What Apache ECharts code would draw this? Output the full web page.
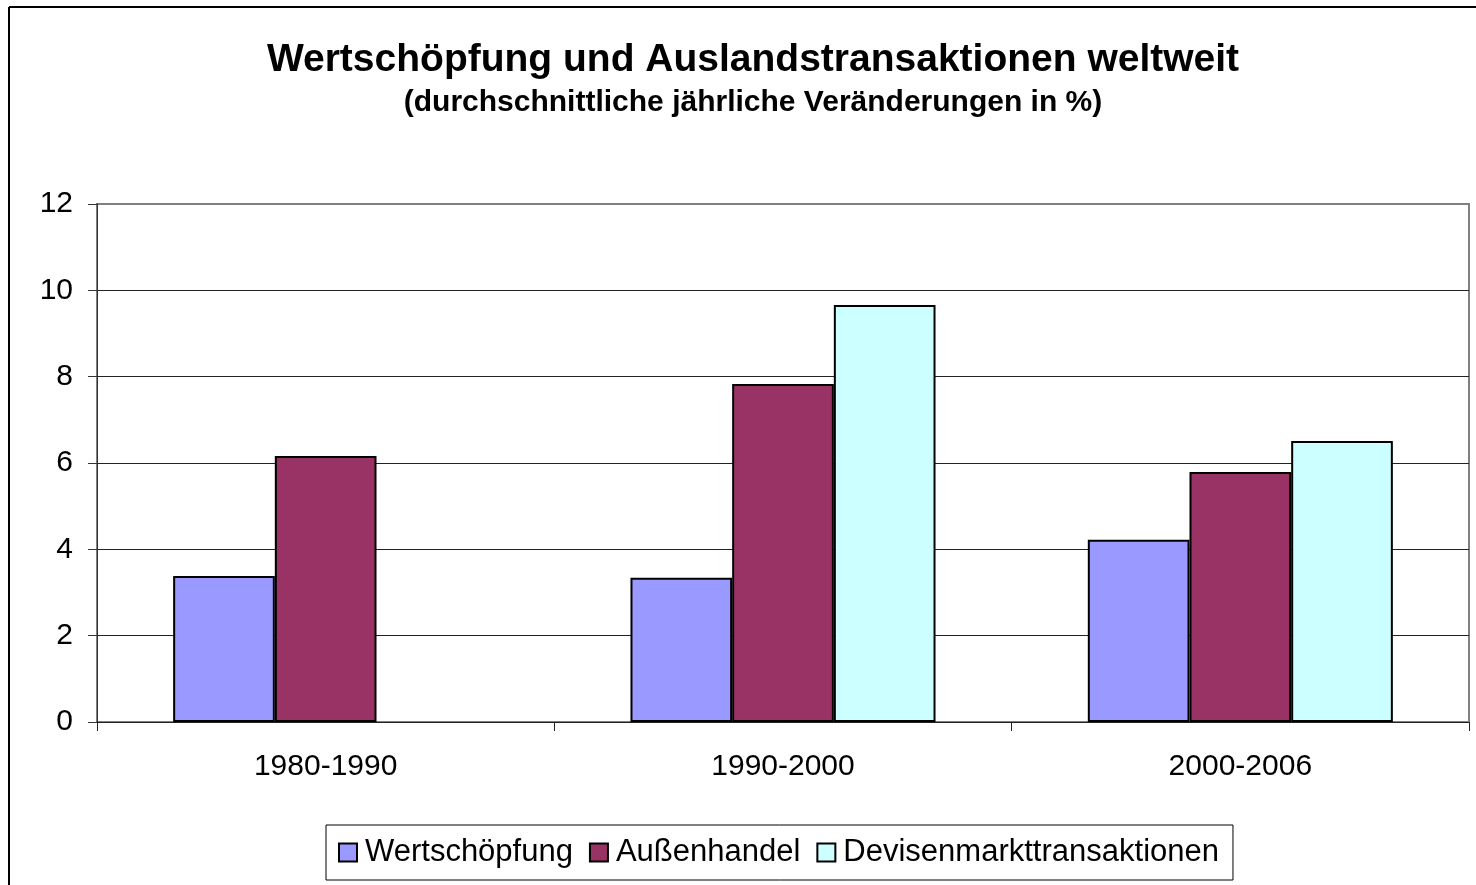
<!DOCTYPE html>
<html><head><meta charset="utf-8">
<script src="https://cdn.jsdelivr.net/npm/echarts@6/dist/echarts.min.js"></script>
<style>html,body{margin:0;padding:0;background:#fff}#c{width:1476px;height:885px}</style>
</head><body><div id="c"></div>
<script>
const categories = ['1980-1990', '1990-2000', '2000-2006'];
const wertschoepfung = [3.38, 3.34, 4.22];
const aussenhandel = [6.16, 7.83, 5.79];
const devisen = [null, 9.66, 6.51];
const seriesNames = ['Wertschöpfung', 'Außenhandel', 'Devisenmarkttransaktionen'];
const titleText = 'Wertschöpfung und Auslandstransaktionen weltweit';
const subtitleText = '(durchschnittliche jährliche Veränderungen in %)';

const chart = echarts.init(document.getElementById('c'), null, {renderer: 'canvas'});
const font = 'Liberation Sans, Arial, sans-serif';
function bar(name, data, color) {
  return {
    name, type: 'bar', data, barGap: '0%', barCategoryGap: '33.3%',
    itemStyle: {color, borderColor: '#000', borderWidth: 2},
    emphasis: {disabled: true}
  };
}
chart.setOption({
  animation: false,
  backgroundColor: '#fff',
  textStyle: {fontFamily: font},
  grid: {left: 97, right: 7, top: 204, bottom: 163, show: true, borderColor: '#808080', borderWidth: 2, backgroundColor: 'transparent'},
  legend: {
    data: seriesNames, bottom: 5, left: 326,
    itemWidth: 18, itemHeight: 18, itemGap: 16,
    padding: [12, 14, 12, 12],
    borderColor: '#000', borderWidth: 1,
    icon: 'rect',
    textStyle: {fontFamily: font, fontSize: 31, color: '#000', padding: [0, 0, 0, 3]}
  },
  xAxis: {
    type: 'category', data: categories,
    axisLine: {lineStyle: {color: '#222', width: 1}},
    axisTick: {show: true, length: 9, lineStyle: {color: '#222'}},
    axisLabel: {fontSize: 30, color: '#000', margin: 30, fontFamily: font}
  },
  yAxis: {
    type: 'value', min: 0, max: 12, interval: 2,
    axisLine: {show: true, lineStyle: {color: '#333', width: 1}},
    axisTick: {show: true, length: 9, lineStyle: {color: '#333'}},
    axisLabel: {fontSize: 30, color: '#000', margin: 24, fontFamily: font},
    splitLine: {lineStyle: {color: ['#222', '#222', '#222', '#222', '#222', '#222', '#808080'], width: 1}}
  },
  graphic: [
    {type: 'line', shape: {x1: 9, y1: 7, x2: 9, y2: 885}, style: {stroke: '#000', lineWidth: 2}, z: 100},
    {type: 'line', shape: {x1: 9, y1: 7, x2: 1476, y2: 7}, style: {stroke: '#000', lineWidth: 2}, z: 100},
    {type: 'text', x: 753, y: 60, style: {text: titleText, font: 'bold 39px ' + font, fill: '#000', textAlign: 'center', textVerticalAlign: 'middle'}, z: 100},
    {type: 'text', x: 753, y: 103, style: {text: subtitleText, font: 'bold 30px ' + font, fill: '#000', textAlign: 'center', textVerticalAlign: 'middle'}, z: 100}
  ],
  series: [
    bar(seriesNames[0], wertschoepfung, '#9999FF'),
    bar(seriesNames[1], aussenhandel, '#993366'),
    bar(seriesNames[2], devisen, '#CCFFFF')
  ]
});
</script></body></html>
